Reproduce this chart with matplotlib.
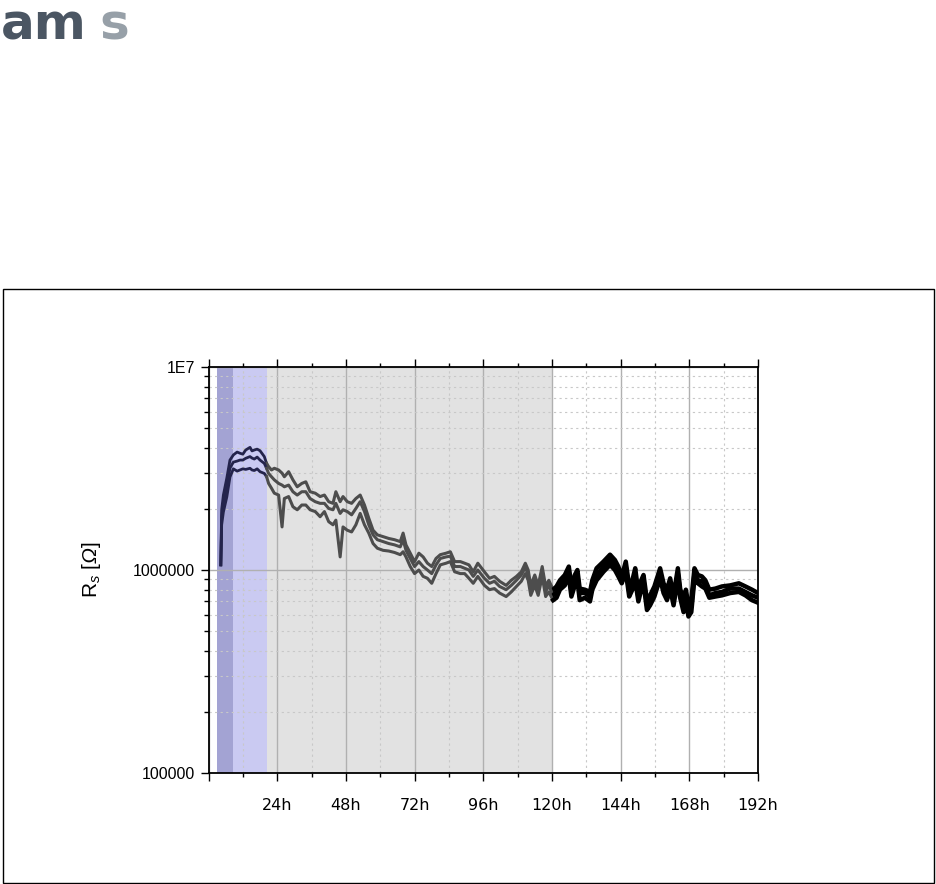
import matplotlib
matplotlib.use("Agg")
import matplotlib.pyplot as plt
from matplotlib.patches import Rectangle
from matplotlib.ticker import FixedLocator, LogLocator, NullFormatter
import numpy as np

# ---------------- data ----------------
hours = [4.3, 4.6, 5.2, 6.4, 7.5, 8.7, 10, 11, 12, 13, 14.5, 15.2, 16, 17, 18, 19.5, 20.3,
         21, 22, 23, 24.5, 25.7, 26.5, 28, 29.5, 31, 32.6, 34, 35.5, 37.3, 39, 40.5, 42,
         43.5, 44.5, 46, 47, 48.5, 50, 51.5, 53, 54.5, 56, 57.5, 59, 61, 63, 65, 67, 68,
         69, 70.5, 72, 73.5, 75, 76.5, 78, 79.5, 81, 83, 84.5, 86, 88, 89.5, 91, 92.5,
         94.1, 96.4, 98.2, 99.9, 101.7, 104, 105.8, 107.6, 109.3, 110.7, 111.7, 112.6, 114,
         115.2, 116.6, 117.8, 118.9, 120.4,
         121.6, 122.8, 124.5, 125.9, 126.8, 128, 128.9, 129.7, 131.5, 133.3, 134.1, 135.6,
         138, 140.3, 142, 143.2, 144.4, 145.8, 147, 148.1, 149.1, 150.2, 151.2, 152, 153.2,
         154.3, 155.8, 157.8, 159, 160.2, 161.3, 162.5, 164, 164.8, 166, 166.8, 167.7, 168.7,
         169.8, 171, 172.4, 173.6, 175, 177.1, 179.4, 182.3, 185.3, 187.6, 189.9, 192]

# sensor resistance, MOhm (upper, middle and lower trace)
rs_upper = [1.06, 1.98, 2.34, 2.84, 3.48, 3.69, 3.81, 3.76, 3.72, 3.90, 4.02, 3.86, 3.90, 3.94, 3.87, 3.62, 3.35,
            3.23, 3.11, 3.17, 3.11, 3.00, 2.88, 3.05, 2.78, 2.57, 2.67, 2.72, 2.43, 2.39, 2.30, 2.34, 2.17,
            2.13, 2.43, 2.17, 2.30, 2.17, 2.13, 2.25, 2.34, 2.09, 1.80, 1.57, 1.49, 1.46, 1.43, 1.41, 1.38, 1.52,
            1.33, 1.21, 1.10, 1.21, 1.16, 1.08, 1.04, 1.14, 1.19, 1.21, 1.23, 1.10, 1.10, 1.08, 1.06, 0.98,
            1.08, 0.98, 0.91, 0.93, 0.88, 0.84, 0.89, 0.93, 0.98, 1.08, 1.00, 0.84, 0.945,
            0.84, 1.04, 0.83, 0.89, 0.80,
            0.83, 0.89, 0.945, 1.04, 0.83, 0.945, 1.00, 0.81, 0.80, 0.78, 0.89, 1.02,
            1.10, 1.19, 1.12, 1.04, 0.93, 1.10, 0.83, 0.89, 1.02, 0.77, 0.89, 0.945, 0.71,
            0.75, 0.83, 1.02, 0.86, 0.80, 0.91, 0.75, 1.02, 0.81, 0.70, 0.80, 0.67, 0.71,
            1.02, 0.945, 0.93, 0.89, 0.80, 0.81, 0.83, 0.84, 0.86, 0.83, 0.80, 0.77]
rs_middle = [1.06, 1.83, 2.14, 2.56, 3.18, 3.40, 3.44, 3.48, 3.48, 3.55, 3.62, 3.56, 3.52, 3.60, 3.48, 3.35, 3.17,
             2.99, 2.88, 2.78, 2.67, 2.62, 2.57, 2.62, 2.43, 2.34, 2.43, 2.43, 2.25, 2.17, 2.13, 2.13, 2.01,
             1.98, 2.13, 1.90, 1.98, 1.94, 1.87, 2.01, 2.17, 1.94, 1.67, 1.49, 1.41, 1.38, 1.35, 1.33, 1.30, 1.41,
             1.25, 1.14, 1.04, 1.10, 1.04, 1.00, 0.96, 1.06, 1.14, 1.16, 1.17, 1.04, 1.04, 1.02, 1.00, 0.93,
             1.00, 0.91, 0.86, 0.88, 0.83, 0.80, 0.84, 0.89, 0.945, 1.03, 0.945, 0.80, 0.89,
             0.80, 0.98, 0.78, 0.84, 0.75,
             0.78, 0.84, 0.89, 0.98, 0.78, 0.89, 0.945, 0.77, 0.77, 0.74, 0.84, 0.945,
             1.04, 1.12, 1.06, 0.98, 0.89, 1.04, 0.78, 0.84, 0.96, 0.73, 0.84, 0.89, 0.67,
             0.71, 0.78, 0.96, 0.81, 0.75, 0.86, 0.71, 0.96, 0.77, 0.66, 0.75, 0.62, 0.66,
             0.96, 0.89, 0.88, 0.85, 0.75, 0.77, 0.78, 0.81, 0.81, 0.78, 0.75, 0.73]
rs_lower = [1.06, 1.67, 1.93, 2.29, 2.87, 3.15, 3.07, 3.11, 3.15, 3.13, 3.17, 3.11, 3.09, 3.15, 3.05, 2.99, 2.88,
            2.67, 2.53, 2.39, 2.34, 1.63, 2.25, 2.30, 2.05, 1.98, 2.09, 2.09, 1.98, 1.94, 1.83, 1.94, 1.73,
            1.67, 1.76, 1.16, 1.63, 1.57, 1.54, 1.67, 1.90, 1.67, 1.52, 1.35, 1.28, 1.25, 1.24, 1.22, 1.19, 1.23,
            1.16, 1.04, 0.96, 1.00, 0.93, 0.91, 0.86, 0.96, 1.06, 1.08, 1.10, 0.98, 0.96, 0.96, 0.91, 0.86,
            0.93, 0.84, 0.80, 0.81, 0.77, 0.74, 0.78, 0.83, 0.88, 0.96, 0.89, 0.75, 0.84,
            0.75, 0.93, 0.74, 0.78, 0.71,
            0.73, 0.80, 0.84, 0.93, 0.74, 0.84, 0.89, 0.71, 0.73, 0.70, 0.80, 0.89,
            0.98, 1.06, 1.00, 0.93, 0.86, 0.98, 0.74, 0.80, 0.89, 0.70, 0.80, 0.86, 0.635,
            0.67, 0.74, 0.91, 0.77, 0.71, 0.81, 0.67, 0.91, 0.73, 0.62, 0.71, 0.59, 0.62,
            0.91, 0.86, 0.83, 0.81, 0.73, 0.74, 0.75, 0.77, 0.78, 0.75, 0.71, 0.69]

phase_bounds = [3.0, 8.7, 20.3, 20.6, 120.0]   # h: dark blue, light blue, grey phases
x_ticks = [0, 24, 48, 72, 96, 120, 144, 168, 192]
x_labels = ["", "24h", "48h", "72h", "96h", "120h", "144h", "168h", "192h"]
y_ticks = [0.1, 1.0, 10.0]
y_labels = ["100000", "1000000", "1E7"]

plt.rcParams["mathtext.fontset"] = "custom"
plt.rcParams["mathtext.rm"] = "Liberation Sans"
plt.rcParams["mathtext.it"] = "Liberation Sans:italic"
plt.rcParams["mathtext.sf"] = "Liberation Sans:italic"

# ---------------- figure ----------------
W, H = 936, 884
fig = plt.figure(figsize=(W / 100, H / 100), dpi=100)
fig.patch.set_facecolor("white")

# outer frame
fig.patches.append(Rectangle((3 / W, 1 / H), 931 / W, 594 / H, transform=fig.transFigure,
                             fill=False, edgecolor="black", linewidth=1.0))

# logo
fig.text(1 / W, 1 - 40 / H, "am", fontsize=36, fontweight="bold", color="#4b5663",
         ha="left", va="baseline", family="DejaVu Sans")
fig.text(99 / W, 1 - 40 / H, "s", fontsize=36, fontweight="bold", color="#97a0a8",
         ha="left", va="baseline", family="DejaVu Sans")

left, right, top, bottom = 208.5, 758.0, 367.0, 773.0
ax = fig.add_axes([left / W, 1 - bottom / H, (right - left) / W, (bottom - top) / H])

ax.set_yscale("log")
ax.set_xlim(0, 192)
ax.set_ylim(0.1, 10)

# shaded phases
ax.axvspan(phase_bounds[0], phase_bounds[1], color="#a3a3d3", lw=0, zorder=0.2)
ax.axvspan(phase_bounds[1], phase_bounds[2], color="#cacaf2", lw=0, zorder=0.2)
ax.axvspan(phase_bounds[3], phase_bounds[4], color="#e2e2e2", lw=0, zorder=0.2)

# grid
ax.set_axisbelow(True)
ax.xaxis.set_major_locator(FixedLocator(x_ticks))
ax.xaxis.set_minor_locator(FixedLocator([12, 36, 60, 84, 108, 132, 156, 180]))
ax.yaxis.set_major_locator(FixedLocator(y_ticks))
ax.yaxis.set_minor_locator(LogLocator(base=10, subs=np.arange(2, 10)))
ax.yaxis.set_minor_formatter(NullFormatter())
ax.set_xticklabels(x_labels)
ax.set_yticklabels(y_labels)
ax.grid(True, which="major", color="#b0b0b0", linewidth=1.0, linestyle="-")
ax.grid(True, which="minor", color="#c8c8c8", linewidth=0.8, linestyle=(0, (2, 3)))

# traces
t = np.array(hours)
traces = [np.array(rs_upper), np.array(rs_middle), np.array(rs_lower)]
seg1 = t <= 20.3
seg2 = (t >= 20.3) & (t <= 120.4)
seg3 = t >= 120.4
for tr in traces:
    ax.plot(t[seg1], tr[seg1], color="#24244c", lw=2.0, zorder=3)
    ax.plot(t[seg2], tr[seg2], color="#4d4d4d", lw=2.2, zorder=3)
    ax.plot(t[seg3], tr[seg3], color="#000000", lw=3.2, zorder=3)

# ticks and spines
for s in ax.spines.values():
    s.set_linewidth(1.3)
    s.set_color("black")
ax.tick_params(axis="x", which="major", direction="out", length=5.8, width=1.0,
               top=True, bottom=True, pad=12, labelsize=11.5)
ax.tick_params(axis="x", which="minor", direction="out", length=3.2, width=1.0,
               top=True, bottom=True)
ax.tick_params(axis="y", which="major", direction="out", length=5.8, width=1.0,
               left=True, right=False, pad=4, labelsize=11.5)
ax.tick_params(axis="y", which="minor", direction="out", length=3.6, width=1.0,
               left=True, right=False)
for lab in ax.get_xticklabels():
    lab.set_family("DejaVu Sans")
for lab in ax.get_yticklabels():
    lab.set_family("Liberation Sans")

ax.set_ylabel(r"R$_{\mathit{s}}$ [$\mathsf{Ω}$]", fontsize=15, family="Liberation Sans")
ax.yaxis.set_label_coords((103 - left) / (right - left), 0.5)

fig.savefig("out.png", dpi=100, facecolor="white")
